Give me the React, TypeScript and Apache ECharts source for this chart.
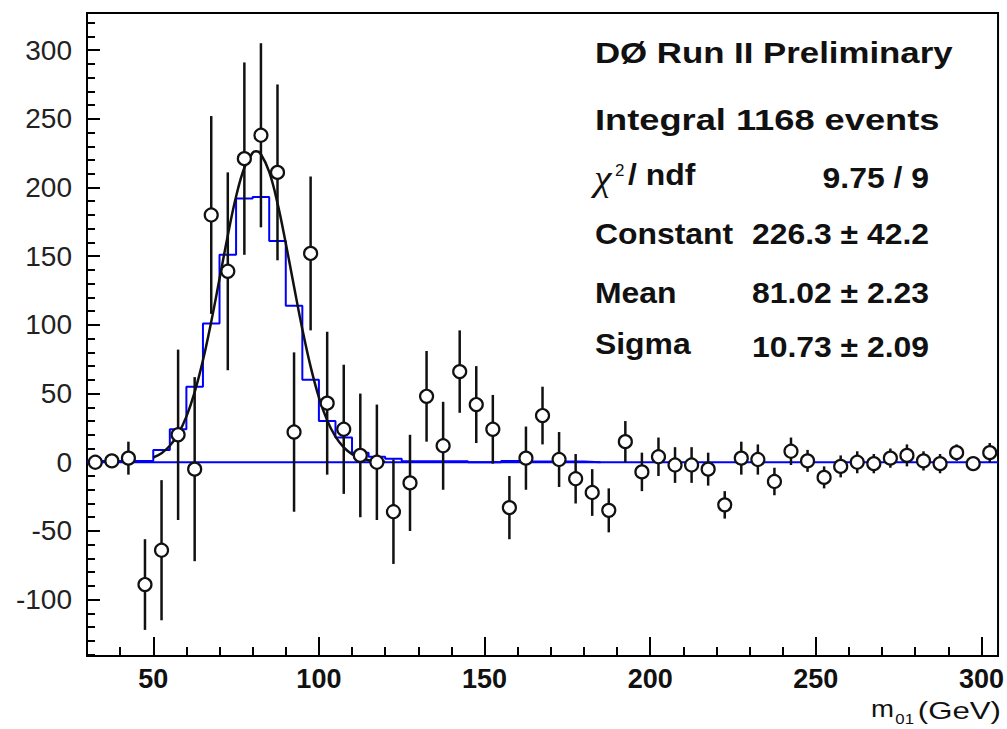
import React, { useEffect, useRef } from "react";
import * as echarts from "echarts";

// bin centres (GeV)
const xCenters = [
  32.5, 37.5, 42.5, 47.5, 52.5, 57.5, 62.5, 67.5, 72.5, 77.5,
  82.5, 87.5, 92.5, 97.5, 102.5, 107.5, 112.5, 117.5, 122.5, 127.5,
  132.5, 137.5, 142.5, 147.5, 152.5, 157.5, 162.5, 167.5, 172.5, 177.5,
  182.5, 187.5, 192.5, 197.5, 202.5, 207.5, 212.5, 217.5, 222.5, 227.5,
  232.5, 237.5, 242.5, 247.5, 252.5, 257.5, 262.5, 267.5, 272.5, 277.5,
  282.5, 287.5, 292.5, 297.5, 302.5,
];
// data points (events / bin)
const dataValues = [
  0, 1, 3, -89, -64, 20, -5, 180, 139, 221,
  238, 211, 22, 152, 43, 24, 5, 0, -36, -15,
  48, 12, 66, 42, 24, -33, 3, 34, 2, -12,
  -22, -35, 15, -7, 4, -2, -2, -5, -31, 3,
  2, -14, 8, 1, -11, -3, 0, -1, 3, 5,
  1, -1, 7, -1, 7,
];
// symmetric errors
const dataErrors = [
  3, 4, 12, 33, 51, 62, 67, 72, 72, 70,
  67, 64, 58, 56, 52, 47, 45, 42, 38, 35,
  33, 32, 30, 28, 25, 23, 23, 21, 20, 18,
  17, 16, 15, 14, 14, 13, 13, 12, 10, 12,
  11, 10, 10, 8, 8, 8, 8, 7, 7, 8,
  7, 7, 6, 4, 7,
];
// blue histogram (bin edges and contents)
const histEdges = [
  30, 35, 40, 45, 50, 55, 60, 65, 70, 75, 80, 85, 90, 95, 100, 105, 110,
  115, 120, 125, 130, 135, 140, 145, 150, 155, 160, 165, 170, 175, 180, 185,
];
const histValues = [
  1, 1, 1, 1, 9, 24, 55, 101, 151, 192, 193, 161, 114, 60, 30, 18,
  7, 4, 2.5, 0.8, 0.8, 0.8, 0.8, 0, 0, 1, 0.5, 0.5, 0.5, 0.5, 0,
];
// gaussian fit curve
const fitX = [
  50, 52.5, 55, 57.5, 60, 62.5, 65, 67.5, 70, 72.5, 75, 77.5, 80, 81.02,
  82.5, 85, 87.5, 90, 92.5, 95, 97.5, 100, 102.5, 105, 107.5, 110, 112.5,
  115, 117.5, 120,
];
const fitY = [
  3.5, 6.6, 12.0, 20.5, 33.2, 51.0, 74.2, 102.3, 133.5, 165.1, 193.4, 214.4,
  225.3, 226.3, 224.2, 211.3, 188.6, 159.4, 127.7, 96.9, 69.6, 47.3, 30.5,
  18.6, 10.8, 5.9, 3.1, 1.5, 0.7, 0.3,
];
// axis ticks
const xMajor = [50, 100, 150, 200, 250, 300];
const xMinor = [
  40, 60, 70, 80, 90, 110, 120, 130, 140, 160, 170, 180, 190, 210, 220, 230,
  240, 260, 270, 280, 290,
];
const yMajor = [-100, -50, 0, 50, 100, 150, 200, 250, 300];
const yMinor = [
  -140, -130, -120, -110, -90, -80, -70, -60, -40, -30, -20, -10, 10, 20, 30,
  40, 60, 70, 80, 90, 110, 120, 130, 140, 160, 170, 180, 190, 210, 220, 230,
  240, 260, 270, 280, 290, 310, 320,
];

const SANS = "'Liberation Sans', Arial, Helvetica, sans-serif";
const SERIF = "'Liberation Serif', 'Times New Roman', serif";
const X_MIN = 30;
const X_MAX = 305;
const Y_MIN = -141;
const Y_MAX = 327;

export default function App() {
  const ref = useRef<HTMLDivElement>(null);

  useEffect(() => {
    if (!ref.current) return;
    const chart = echarts.init(ref.current, undefined, { renderer: "svg" });

    const histData: number[][] = histValues.map((v, i) => [histEdges[i], v]);
    histData.push([histEdges[histEdges.length - 1], histValues[histValues.length - 1]]);

    const errData = xCenters.map((x, i) => [
      x,
      dataValues[i] - dataErrors[i],
      dataValues[i] + dataErrors[i],
    ]);
    const pts = xCenters.map((x, i) => [x, dataValues[i]]);
    const fitData = fitX.map((x, i) => [x, fitY[i]]);

    const tickStyle = { color: "#000", width: 2 };

    const statText = (
      text: string,
      x: number,
      y: number,
      align: string,
      scaleX: number,
      size = 29,
      weight = "bold",
      family = SANS,
      style = "normal"
    ) => ({
      type: "text",
      x,
      y,
      scaleX,
      z: 100,
      style: {
        text,
        fill: "#111",
        fontSize: size,
        fontWeight: weight,
        fontFamily: family,
        fontStyle: style,
        align,
        verticalAlign: "middle",
      },
    });

    const xAxisBase = {
      type: "value",
      min: X_MIN,
      max: X_MAX,
      position: "bottom",
      axisLine: { show: false, onZero: false },
      splitLine: { show: false },
    };
    const yAxisBase = {
      type: "value",
      min: Y_MIN,
      max: Y_MAX,
      position: "left",
      axisLine: { show: false, onZero: false },
      splitLine: { show: false },
    };

    const option: any = {
      animation: false,
      backgroundColor: "#fff",
      grid: {
        left: 87,
        right: 7,
        top: 13,
        bottom: 73,
        show: true,
        borderColor: "#000",
        borderWidth: 2,
        backgroundColor: "#fff",
      },
      xAxis: [
        {
          ...xAxisBase,
          axisTick: {
            show: true,
            inside: true,
            length: 19,
            lineStyle: tickStyle,
            customValues: xMajor,
          },
          axisLabel: {
            show: true,
            customValues: xMajor,
            margin: 9,
            fontSize: 27,
            fontWeight: "bold",
            fontFamily: SANS,
            color: "#111",
          },
        },
        {
          ...xAxisBase,
          axisTick: {
            show: true,
            inside: true,
            length: 9,
            lineStyle: tickStyle,
            customValues: xMinor,
          },
          axisLabel: { show: false },
        },
      ],
      yAxis: [
        {
          ...yAxisBase,
          axisTick: {
            show: true,
            inside: true,
            length: 13,
            lineStyle: tickStyle,
            customValues: yMajor,
          },
          axisLabel: {
            show: true,
            customValues: yMajor,
            margin: 15,
            fontSize: 28,
            fontFamily: SANS,
            color: "#222",
          },
        },
        {
          ...yAxisBase,
          axisTick: {
            show: true,
            inside: true,
            length: 8,
            lineStyle: tickStyle,
            customValues: yMinor,
          },
          axisLabel: { show: false },
        },
      ],
      series: [
        {
          type: "line",
          name: "zero",
          data: [
            [X_MIN, 0],
            [X_MAX, 0],
          ],
          symbol: "none",
          lineStyle: { color: "#0000ff", width: 2 },
          silent: true,
          z: 1,
        },
        {
          type: "line",
          name: "hist",
          data: histData,
          step: "end",
          symbol: "none",
          lineStyle: { color: "#0000ff", width: 2 },
          silent: true,
          z: 2,
        },
        {
          type: "line",
          name: "fit",
          data: fitData,
          smooth: 0.4,
          symbol: "none",
          lineStyle: { color: "#111", width: 2.5 },
          silent: true,
          z: 3,
        },
        {
          type: "custom",
          name: "errors",
          data: errData,
          encode: { x: 0, y: [1, 2] },
          clip: true,
          silent: true,
          z: 4,
          renderItem: (_p: any, api: any) => {
            const x = api.value(0);
            const a = api.coord([x, api.value(1)]);
            const b = api.coord([x, api.value(2)]);
            return {
              type: "line",
              shape: { x1: a[0], y1: a[1], x2: b[0], y2: b[1] },
              style: { stroke: "#111", lineWidth: 2.5 },
            };
          },
        },
        {
          type: "scatter",
          name: "data",
          data: pts,
          symbol: "circle",
          symbolSize: 13,
          itemStyle: { color: "#fff", borderColor: "#111", borderWidth: 2.2, opacity: 1 },
          emphasis: { disabled: true },
          silent: true,
          z: 5,
        },
      ],
      graphic: [
        statText("D\u00D8 Run II Preliminary", 595, 53, "left", 1.2),
        statText("Integral 1168 events", 595, 120, "left", 1.25),
        statText("\u03C7", 594, 178, "left", 1.1, 36, "normal", SERIF, "italic"),
        statText("2", 615, 170, "left", 1.0, 17, "normal"),
        statText("/ ndf", 628, 175, "left", 1.1),
        statText("9.75 / 9", 929, 178, "right", 1.1),
        statText("Constant", 595, 234, "left", 1.1),
        statText("226.3 \u00B1 42.2", 929, 234, "right", 1.1),
        statText("Mean", 595, 293, "left", 1.1),
        statText("81.02 \u00B1 2.23", 929, 293, "right", 1.1),
        statText("Sigma", 595, 344, "left", 1.1),
        statText("10.73 \u00B1 2.09", 929, 347, "right", 1.1),
        statText("(GeV)", 1001, 711, "right", 1.3, 24, "normal"),
        statText("01", 914, 719, "right", 1.2, 14, "normal"),
        statText("m", 894, 709, "right", 1.15, 24, "normal"),
      ],
    };

    chart.setOption(option);
    return () => chart.dispose();
  }, []);

  return (
    <div
      ref={ref}
      style={{ position: "absolute", left: 0, top: 0, width: 1007, height: 729 }}
    />
  );
}
